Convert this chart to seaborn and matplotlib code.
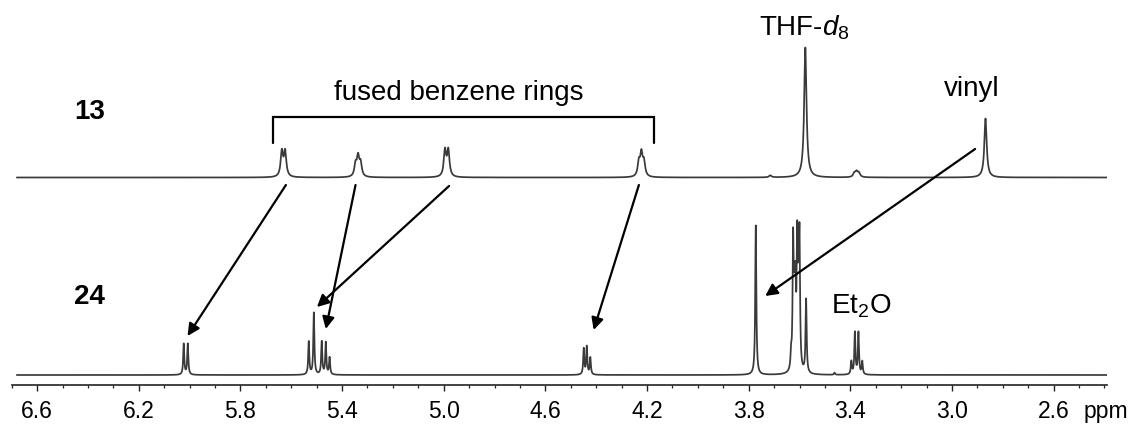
import numpy as np
import pandas as pd
import matplotlib
matplotlib.use("Agg")
import matplotlib.pyplot as plt
import seaborn as sns

# 1H NMR peak lists: chemical shift (ppm) and line intensity (arb. units)
shifts_13 = [5.637, 5.624, 5.347, 5.337, 5.327, 4.995, 4.982,
             4.232, 4.222, 4.212, 3.715, 3.577, 3.384, 3.375, 3.366, 2.868]
heights_13 = [25, 25, 12, 19, 13, 26, 26,
              14, 22, 14, 2, 130, 4, 5, 4, 59]

shifts_24 = [6.023, 6.007, 5.531, 5.511, 5.480, 5.464, 5.449,
             4.449, 4.437, 4.423, 3.772, 3.633, 3.625, 3.620, 3.616, 3.609,
             3.604, 3.600, 3.574, 3.462, 3.396, 3.382, 3.368, 3.353]
heights_24 = [31, 31, 33, 62, 33, 32, 17,
              26, 28, 17, 150, 15, 125, 55, 70, 120,
              60, 122, 74, 2, 13, 42, 42, 13]

tick_values = [6.6, 6.2, 5.8, 5.4, 5.0, 4.6, 4.2, 3.8, 3.4, 3.0, 2.6]
tick_labels = ["6.6", "6.2", "5.8", "5.4", "5.0", "4.6", "4.2", "3.8", "3.4", "3.0", "2.6"]

PPM_LEFT, PPM_RIGHT = 6.68, 2.39
OFFSET_13, OFFSET_24 = 207.5, 10.0


def lorentz_sum(ppm, centers, heights, fwhm):
    hw = fwhm / 2.0
    y = np.zeros_like(ppm)
    for c, h in zip(centers, heights):
        y += h / (1.0 + ((ppm - c) / hw) ** 2)
    return y


ppm = np.linspace(PPM_RIGHT, PPM_LEFT, 12000)
spec = pd.concat([
    pd.DataFrame({"ppm": ppm,
                  "intensity": OFFSET_13 + lorentz_sum(ppm, shifts_13, heights_13, 0.011),
                  "compound": "13"}),
    pd.DataFrame({"ppm": ppm,
                  "intensity": OFFSET_24 + lorentz_sum(ppm, shifts_24, heights_24, 0.005),
                  "compound": "24"}),
])

sns.set_theme(style="white")
plt.rcParams["font.family"] = ["Liberation Sans", "DejaVu Sans"]
plt.rcParams["mathtext.fontset"] = "custom"
plt.rcParams["mathtext.rm"] = "Liberation Sans"
plt.rcParams["mathtext.it"] = "Liberation Sans:italic"
plt.rcParams["text.color"] = "black"
plt.rcParams["xtick.color"] = "black"

W, H = 1134, 425
fig = plt.figure(figsize=(W / 100, H / 100), dpi=100)
ax = fig.add_axes([11.7 / W, 40 / H, (1107 - 11.7) / W, 385 / H])

for name, grp in spec.groupby("compound"):
    sns.lineplot(data=grp, x="ppm", y="intensity", ax=ax, color="#3a3a3a",
                 lw=1.25, estimator=None, sort=False, legend=False)

ax.set_xlim(PPM_LEFT, PPM_RIGHT)
ax.set_ylim(0, 385)
ax.set_xlabel("")
ax.set_ylabel("")
ax.set_yticks([])
for s in ["top", "left", "right"]:
    ax.spines[s].set_visible(False)
ax.spines["bottom"].set_color("#222222")
ax.spines["bottom"].set_linewidth(1.2)

ax.set_xticks(tick_values)
ax.set_xticklabels(tick_labels)
ax.set_xticks(np.arange(2.4, 6.75, 0.1), minor=True)
ax.tick_params(axis="x", which="major", direction="out", length=4.5, width=1.0,
               pad=6, labelsize=16.5, color="#222222", labelcolor="black", bottom=True)
ax.tick_params(axis="x", which="minor", direction="out", length=2.5, width=0.9,
               color="#222222", bottom=True)
ax.annotate("ppm", xy=(2.483, 0), xycoords=("data", "axes fraction"),
            xytext=(0, -10.5), textcoords="offset points",
            ha="left", va="top", fontsize=16.5, color="black")

# compound labels
ax.text(6.395, 273, "13", fontsize=20, fontweight="bold", ha="center", va="center")
ax.text(6.395, 88, "24", fontsize=20, fontweight="bold", ha="center", va="center")

# bracket over the aromatic signals
ax.plot([5.672, 5.672, 4.173, 4.173], [242, 268, 268, 242], color="black", lw=1.6,
        solid_joinstyle="miter")
ax.text(4.94, 285, "fused benzene rings", fontsize=20, ha="center", va="baseline")

ax.text(3.582, 350, r"THF-$\mathit{d}_{8}$", fontsize=20, ha="center", va="baseline")
ax.text(2.921, 289, "vinyl", fontsize=20, ha="center", va="baseline")
ax.text(3.359, 71, r"Et$_2$O", fontsize=20, ha="center", va="baseline")

# correlation arrows from 13 to 24
arrows = [((5.621, 200), (6.008, 49)),
          ((5.347, 200), (5.464, 56)),
          ((4.979, 199), (5.499, 78)),
          ((4.232, 200), (4.410, 55)),
          ((2.909, 236), (3.735, 89))]
for start, end in arrows:
    ax.annotate("", xy=end, xytext=start,
                arrowprops=dict(arrowstyle="-|>", color="black", lw=1.6,
                                mutation_scale=18, shrinkA=0, shrinkB=0))

fig.savefig("out.png", dpi=100)
